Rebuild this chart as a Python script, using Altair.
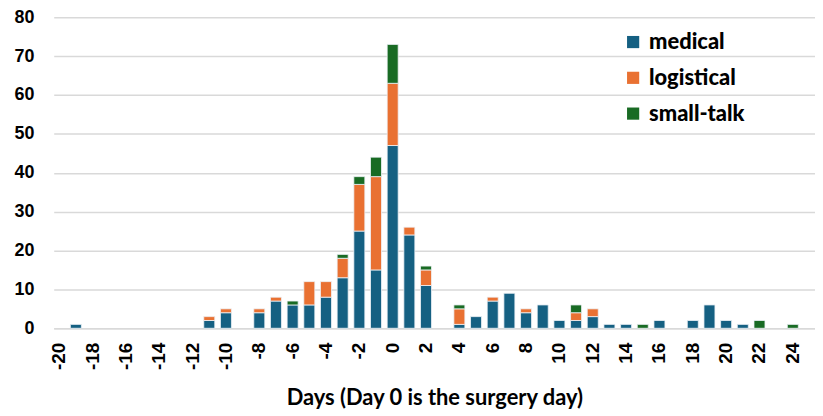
import altair as alt
import pandas as pd

days = list(range(-20, 26))
medical = {-19: 1, -11: 2, -10: 4, -8: 4, -7: 7, -6: 6, -5: 6, -4: 8, -3: 13, -2: 25, -1: 15,
           0: 47, 1: 24, 2: 11, 4: 1, 5: 3, 6: 7, 7: 9, 8: 4, 9: 6, 10: 2, 11: 2, 12: 3,
           13: 1, 14: 1, 16: 2, 18: 2, 19: 6, 20: 2, 21: 1}
logistical = {-11: 1, -10: 1, -8: 1, -7: 1, -5: 6, -4: 4, -3: 5, -2: 12, -1: 24, 0: 16,
              1: 2, 2: 4, 4: 4, 6: 1, 8: 1, 11: 2, 12: 2}
small_talk = {-6: 1, -3: 1, -2: 2, -1: 5, 0: 10, 2: 1, 4: 1, 11: 2, 15: 1, 22: 2, 24: 1}

categories = ["medical", "logistical", "small-talk"]
colors = ["#156082", "#E97132", "#196B24"]

rows = []
for i, (name, series) in enumerate(zip(categories, [medical, logistical, small_talk])):
    for d, v in series.items():
        if v > 0:
            rows.append({"day": d, "type": name, "count": v, "order": i})
df = pd.DataFrame(rows)

chart = alt.Chart(df).mark_bar(stroke="#eef3f7", strokeWidth=0.8).encode(
    x=alt.X("day:O",
            scale=alt.Scale(domain=days, paddingInner=0.34, paddingOuter=0),
            axis=alt.Axis(title="Days (Day 0 is the surgery day)",
                          labelAngle=270, labelAlign="right", labelBaseline="middle",
                          labelExpr="datum.value % 2 == 0 ? datum.label : ''",
                          labelFont="Liberation Sans", labelFontSize=19, labelFontWeight="bold",
                          labelColor="black", labelPadding=14,
                          ticks=False, domainColor="#d9d9d9", domainWidth=1.5,
                          titleFont="Lato", titleFontSize=22, titleFontWeight="bold",
                          titleColor="black", titleY=60, titleBaseline="top")),
    y=alt.Y("count:Q",
            stack="zero",
            scale=alt.Scale(domain=[0, 80]),
            axis=alt.Axis(title=None, values=list(range(0, 81, 10)),
                          labelFont="Liberation Sans", labelFontSize=18, labelFontWeight="bold",
                          labelColor="black", labelPadding=20,
                          ticks=False, domain=False, gridColor="#d9d9d9", gridWidth=1.5)),
    color=alt.Color("type:N",
                    scale=alt.Scale(domain=categories, range=colors),
                    legend=alt.Legend(title=None, orient="none", legendX=572, legendY=14,
                                      symbolType="square", symbolSize=150,
                                      symbolStrokeWidth=0, labelFont="Lato",
                                      labelFontSize=22, labelFontWeight=900,
                                      labelColor="black", rowPadding=14, labelOffset=5)),
    order=alt.Order("order:Q"),
).properties(
    width=766, height=313,
    autosize=alt.AutoSizeParams(type="none"),
    padding={"left": 46, "top": 8, "right": 0, "bottom": 86},
).configure_view(stroke=None).configure_axis(grid=True).configure_axisX(grid=False)

chart.save("out.html", embed_options={"renderer": "svg", "actions": False})
